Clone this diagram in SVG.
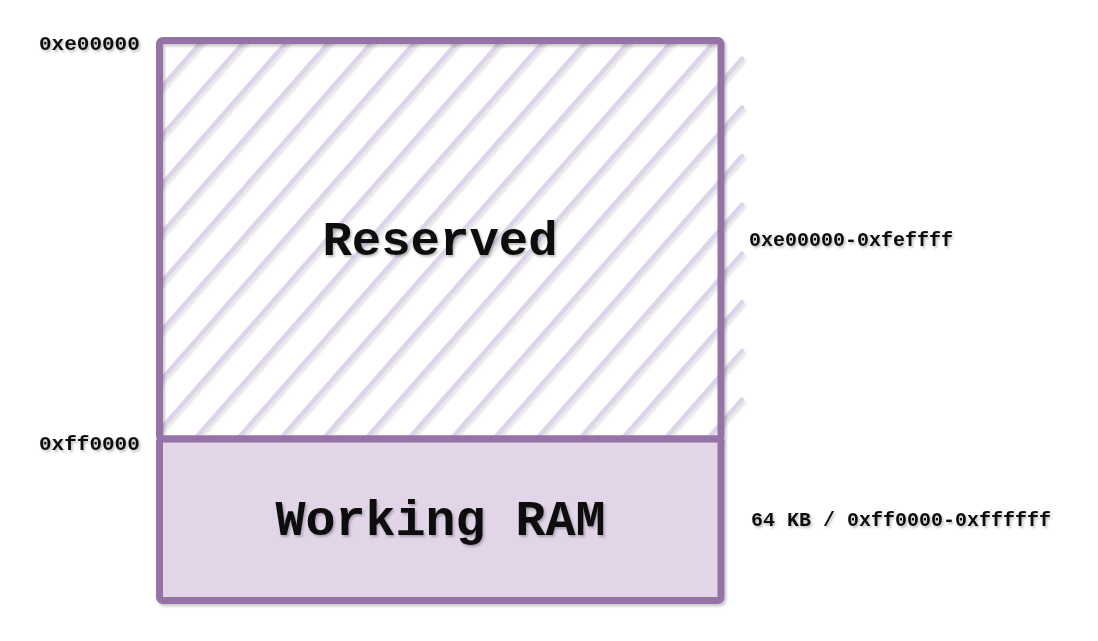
<svg xmlns="http://www.w3.org/2000/svg" width="1098" height="641" viewBox="0 0 1098 641">
  <defs>
    <filter id="sh" x="-10%" y="-10%" width="130%" height="130%">
      <feDropShadow dx="2" dy="2.5" stdDeviation="1.2" flood-color="#000" flood-opacity="0.2"/>
    </filter>
    <filter id="hsh" x="-10%" y="-10%" width="130%" height="130%">
      <feDropShadow dx="2" dy="2.5" stdDeviation="1.2" flood-color="#000" flood-opacity="0.1"/>
    </filter>
    <filter id="tsh" x="-10%" y="-30%" width="130%" height="170%">
      <feDropShadow dx="1.5" dy="2" stdDeviation="1.3" flood-color="#000" flood-opacity="0.25"/>
    </filter>
  </defs>
  <style>
    .hatch line { stroke: #ddd3ea; stroke-width: 4.5; stroke-linecap: round; }
    .box { stroke: #9673a6; stroke-width: 7; stroke-linejoin: round; }
    .big { font-family: "Liberation Mono", "DejaVu Sans Mono", monospace; font-weight: bold; fill: #111; text-anchor: middle; }
    .lbl { font-family: "Liberation Mono", "DejaVu Sans Mono", monospace; font-weight: bold; fill: #111; }
  </style>
  <rect width="1098" height="641" fill="#ffffff"/>

  <g id="reserved">
    <g class="hatch" filter="url(#hsh)">
      <line x1="160" y1="89.1" x2="203.1" y2="40"/>
      <line x1="160" y1="137.8" x2="245.8" y2="40"/>
      <line x1="160" y1="186.5" x2="288.5" y2="40"/>
      <line x1="160" y1="235.2" x2="331.2" y2="40"/>
      <line x1="160" y1="283.9" x2="373.9" y2="40"/>
      <line x1="160" y1="332.6" x2="416.7" y2="40"/>
      <line x1="160" y1="381.3" x2="459.4" y2="40"/>
      <line x1="160" y1="430" x2="502.1" y2="40"/>
      <line x1="195.7" y1="438" x2="544.8" y2="40"/>
      <line x1="238.4" y1="438" x2="587.5" y2="40"/>
      <line x1="281.1" y1="438" x2="630.3" y2="40"/>
      <line x1="323.9" y1="438" x2="673" y2="40"/>
      <line x1="366.6" y1="438" x2="715.7" y2="40"/>
      <line x1="409.3" y1="438" x2="742" y2="58.7"/>
      <line x1="452" y1="438" x2="742" y2="107.4"/>
      <line x1="494.7" y1="438" x2="742" y2="156.1"/>
      <line x1="537.5" y1="438" x2="742" y2="204.8"/>
      <line x1="580.2" y1="438" x2="742" y2="253.5"/>
      <line x1="622.9" y1="438" x2="742" y2="302.2"/>
      <line x1="665.6" y1="438" x2="742" y2="350.9"/>
      <line x1="708.3" y1="438" x2="742" y2="399.6"/>
    </g>
    <rect class="box" x="159.5" y="40.5" width="561.5" height="398.5" rx="3" fill="none" filter="url(#sh)"/>
    <text class="big" x="440" y="255" font-size="49" filter="url(#tsh)">Reserved</text>
  </g>

  <g id="working-ram">
    <rect class="box" x="159.5" y="439" width="561.5" height="161.5" rx="3" fill="#e1d5e7" filter="url(#sh)"/>
    <text class="big" x="440.5" y="535" font-size="50" filter="url(#tsh)">Working RAM</text>
  </g>

  <g id="labels">
    <text class="lbl" x="39" y="50" font-size="21" filter="url(#tsh)">0xe00000</text>
    <text class="lbl" x="39" y="450" font-size="21" filter="url(#tsh)">0xff0000</text>
    <text class="lbl" x="749" y="246" font-size="20" filter="url(#tsh)">0xe00000-0xfeffff</text>
    <text class="lbl" x="751" y="526" font-size="20" filter="url(#tsh)">64 KB / 0xff0000-0xffffff</text>
  </g>
</svg>
